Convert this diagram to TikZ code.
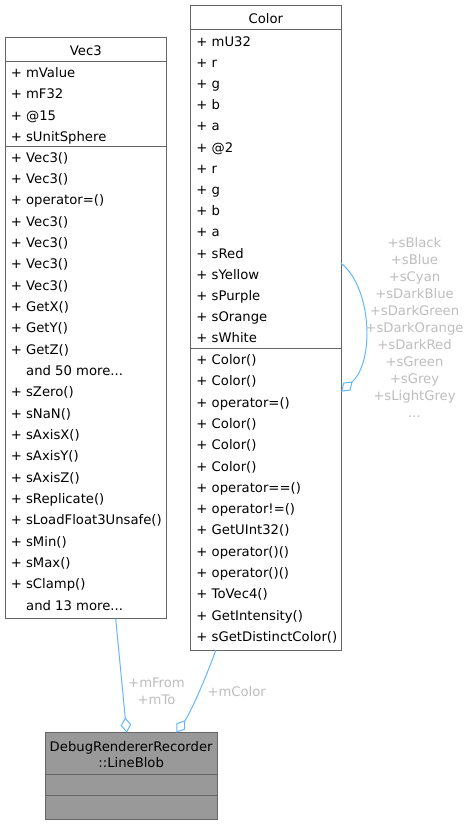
\documentclass[tikz,border=0pt]{standalone}
\usepackage{fontspec}
\setmainfont{DejaVu Sans}
\usetikzlibrary{arrows.meta,calc}
\definecolor{boxgray}{HTML}{666666}
\definecolor{blobfill}{HTML}{999999}
\definecolor{edgeblue}{HTML}{63B8FF}
\definecolor{labelgray}{HTML}{BEBEBE}
\newcommand{\mydots}{...}
\begin{document}
\begin{tikzpicture}[x=0.75pt,y=-0.75pt,
  box/.style={draw=boxgray, line width=0.75pt, fill=white, rectangle, inner sep=0pt, outer sep=0pt, anchor=north west},
  row/.style={inner sep=0pt, anchor=base west, font=\fontsize{9.9}{12}\selectfont},
  ttl/.style={inner sep=0pt, anchor=base, font=\fontsize{9.9}{12}\selectfont},
  rel/.style={draw=edgeblue, line width=0.75pt, -{Diamond[open, length=11.5pt, width=8pt]}},
  elabel/.style={inner sep=0pt, anchor=base, text=labelgray, font=\fontsize{9.9}{12}\selectfont},
  sepline/.style={draw=boxgray, line width=0.75pt}
]
\fill[white] (0,0) rectangle (467,825);
\useasboundingbox (0,0) rectangle (467,825);

% boxes
\node[box, minimum width=121.27pt, minimum height=436.05pt] (vec3) at (5,37.3) {};
\node[box, minimum width=113.0pt, minimum height=484.1pt] (color) at (190.5,5) {};
\node[box, fill=blobfill, minimum width=129.2pt, minimum height=64.95pt] (blob) at (45,732.7) {};

% separators
\draw[sepline] ($(vec3.north west)+(0,24.4)$) -- ($(vec3.north east)+(0,24.4)$);
\draw[sepline] ($(vec3.north west)+(0,108.7)$) -- ($(vec3.north east)+(0,108.7)$);
\draw[sepline] ($(color.north west)+(0,24)$) -- ($(color.north east)+(0,24)$);
\draw[sepline] ($(color.north west)+(0,343.7)$) -- ($(color.north east)+(0,343.7)$);
\draw[sepline] ($(blob.north west)+(0,41.3)$) -- ($(blob.north east)+(0,41.3)$);
\draw[sepline] ($(blob.north west)+(0,62.6)$) -- ($(blob.north east)+(0,62.6)$);

% titles
\node[ttl] (vec3title) at (85.85,55.3) {Vec3};
\node[ttl] (colortitle) at (265.85,23) {Color};
\node[ttl] (blobtitleA) at (131.15,751) {DebugRendererRecorder};
\node[ttl] (blobtitleB) at (131.15,767.7) {::LineBlob};

% Vec3 rows
\foreach \t [count=\i from 0] in {mValue, mF32, @15, sUnitSphere}
  \node[row] (vecattr\i) at (10.6, 77.6+21.2*\i) {+ \t};
\foreach \t/\dx [count=\i from 0] in {+ Vec3()/0, + Vec3()/0, + operator=()/0, + Vec3()/0, + Vec3()/0, + Vec3()/0, + Vec3()/0, + GetX()/0, + GetY()/0, + GetZ()/0, and 50 more\mydots/15.3, + sZero()/0, + sNaN()/0, + sAxisX()/0, + sAxisY()/0, + sAxisZ()/0, + sReplicate()/0, + sLoadFloat3Unsafe()/0, + sMin()/0, + sMax()/0, + sClamp()/0, and 13 more\mydots/15.3}
  \node[row] (vecop\i) at (10.6+\dx, 162.2+21.33*\i) {\t};

% Color rows
\foreach \t [count=\i from 0] in {mU32, r, g, b, a, @2, r, g, b, a, sRed, sYellow, sPurple, sOrange, sWhite}
  \node[row] (colattr\i) at (196.2, 46+21.2*\i) {+ \t};
\foreach \t [count=\i from 0] in {Color(), Color(), operator=(), Color(), Color(), Color(), operator==(), operator!=(), GetUInt32(), operator()(), operator()(), ToVec4(), GetIntensity(), sGetDistinctColor()}
  \node[row] (colop\i) at (196.2, 364.5+21.3*\i) {+ \t};

% connectors
\draw[rel] ($(vec3.south)+(29.85,0)$) -- ($(blob.north)+(-4.45,0)$);
\draw[rel] ($(color.south)+(-50.15,0)$) .. controls (208,672) and (192.1,710.2) .. ($(blob.north)+(45.35,0)$);
\draw[rel] ($(color.east)+(0,-64.45)$) .. controls (372,288) and (374.7,361.7) .. ($(color.east)+(0,63.95)$);

% connector labels
\node[elabel] (lblfrom) at (156.5,687.7) {+mFrom};
\node[elabel] (lblto) at (156.5,704.3) {+mTo};
\node[elabel] (lblcolor) at (236.7,696) {+mColor};
\foreach \t [count=\i from 0] in {+sBlack, +sBlue, +sCyan, +sDarkBlue, +sDarkGreen, +sDarkOrange, +sDarkRed, +sGreen, +sGrey, +sLightGrey, \mydots}
  \node[elabel] (lblself\i) at (414.5, 247.7+17*\i) {\t};
\end{tikzpicture}
\end{document}
